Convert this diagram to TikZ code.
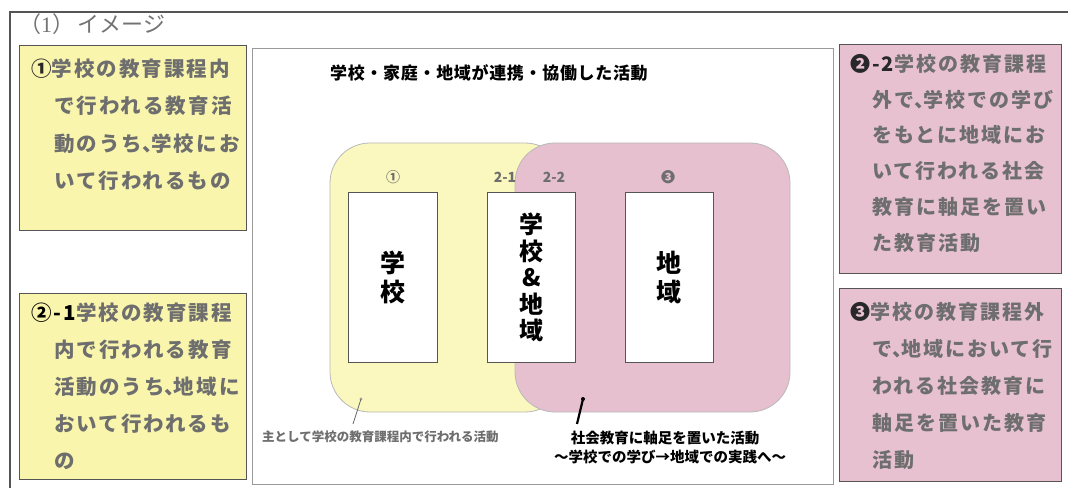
\documentclass[tikz,border=0pt]{standalone}
\usepackage{fontspec}
\setmainfont{Liberation Serif}
\newfontfamily\jp{Noto Sans CJK JP}
\newfontfamily\jpsp{Noto Sans CJK JP}[LetterSpace=10]
\newfontfamily\jpti{Noto Sans CJK JP}[LetterSpace=4]
\newcommand\jten{\makebox[9bp][l]{、}}
\definecolor{yboxc}{RGB}{249,245,172}
\definecolor{pboxc}{RGB}{231,193,208}
\definecolor{yareac}{RGB}{250,248,190}
\definecolor{pareac}{RGB}{230,192,206}
\definecolor{txtgray}{RGB}{110,110,110}
\definecolor{darktxt}{RGB}{40,40,40}
\definecolor{linegray}{RGB}{85,85,85}
\begin{document}
\begin{tikzpicture}[x=1bp,y=-1bp,
  sidebox/.style={draw=linegray, line width=1.3bp, inner sep=0pt, anchor=north west},
  sidetxt/.style={anchor=west, inner sep=0pt, text=txtgray, font=\jpsp\bfseries\fontsize{20.5bp}{20.5bp}\selectfont},
  sidetxtr/.style={sidetxt, font=\jpsp\bfseries\fontsize{20bp}{20bp}\selectfont},
  areabox/.style={draw=gray!55, line width=0.8bp, rounded corners=40bp},
  whitebox/.style={draw=linegray, line width=0.9bp, fill=white, inner sep=0pt, anchor=north west},
  bigtxt/.style={align=center, inner sep=0pt, text=black, font=\jp\bfseries\fontsize{25bp}{29bp}\selectfont},
  lbl/.style={inner sep=0pt, text=txtgray, font=\jp\bfseries\fontsize{14bp}{14bp}\selectfont},
]
\useasboundingbox (0,0) rectangle (1068,488);
\fill[white] (0,0) rectangle (1068,488);

% outer frame
\draw[linegray, line width=1.3bp] (1068,12) -- (10,12) -- (10,488);
\node[anchor=west, inner sep=0pt, text=gray!90!black, font=\fontsize{22bp}{22bp}\selectfont] (title) at (19,24) {{\jp （}1{\jp ）\,イメージ}};

% central box
\node[draw=gray!80, line width=1bp, inner sep=0pt, anchor=north west, minimum width=581bp, minimum height=436bp] (center) at (252,48) {};

% side boxes
\node[sidebox, fill=yboxc, minimum width=227bp, minimum height=185bp] (b1) at (19,45) {};
\node[sidebox, fill=yboxc, minimum width=227bp, minimum height=186bp] (b2) at (19,293) {};
\node[sidebox, fill=pboxc, minimum width=222bp, minimum height=229bp] (b3) at (839,44) {};
\node[sidebox, fill=pboxc, minimum width=222bp, minimum height=193bp] (b4) at (839,288) {};

% box 1 text
\node[sidetxt] (l11) at (31,69)  {{\color{darktxt}①}学校の教育課程内};
\node[sidetxt] (l12) at (54,106) {で行われる教育活};
\node[sidetxt] (l13) at (54,144) {動のうち\jten 学校にお};
\node[sidetxt] (l14) at (54,181) {いて行われるもの};

% box 2 text
\node[sidetxt] (l21) at (31,313) {{\color{black}②-1}学校の教育課程};
\node[sidetxt] (l22) at (54,350) {内で行われる教育};
\node[sidetxt] (l23) at (54,387) {活動のうち\jten 地域に};
\node[sidetxt] (l24) at (54,424) {おいて行われるも};
\node[sidetxt] (l25) at (54,461) {の};

% box 3 text
\node[sidetxtr] (l31) at (850,64)  {{\color{darktxt}❷-2}学校の教育課程};
\node[sidetxtr] (l32) at (872,100) {外で\jten 学校での学び};
\node[sidetxtr] (l33) at (872,135) {をもとに地域にお};
\node[sidetxtr] (l34) at (872,171) {いて行われる社会};
\node[sidetxtr] (l35) at (872,207) {教育に軸足を置い};
\node[sidetxtr] (l36) at (872,243) {た教育活動};

% box 4 text
\node[sidetxtr] (l41) at (850,312) {{\color{darktxt}❸}学校の教育課程外};
\node[sidetxtr] (l42) at (872,349) {で\jten 地域において行};
\node[sidetxtr] (l43) at (872,386) {われる社会教育に};
\node[sidetxtr] (l44) at (872,423) {軸足を置いた教育};
\node[sidetxtr] (l45) at (872,460) {活動};

% central title
\node[anchor=west, inner sep=0pt, text=black, font=\jpti\bfseries\fontsize{17bp}{17bp}\selectfont] (ctitle) at (330,73) {学校・家庭・地域が連携・協働した活動};

% areas
\draw[areabox, fill=yareac] (330,143) rectangle (565,412);
\draw[areabox, fill=pareac] (515,143) rectangle (790,412);

% white boxes
\node[whitebox, minimum width=89bp, minimum height=170bp] (r1) at (348,192) {};
\node[whitebox, minimum width=88bp, minimum height=170bp] (r2) at (487,192) {};
\node[whitebox, minimum width=88bp, minimum height=170bp] (r3) at (625,192) {};

\node[bigtxt] (s1) at (r1.center) {学\\校};
\node[bigtxt, font=\jp\bfseries\fontsize{24bp}{26.5bp}\selectfont] (s2) at (r2.center) {学\\校\\\&\\地\\域};
\node[bigtxt] (s3) at (r3.center) {地\\域};

\node[lbl] (n1) at (393,177) {①};
\node[lbl] (n21) at (505,177) {2-1};
\node[lbl] (n22) at (554,177) {2-2};
\node[lbl] (n3) at (668,177) {❸};

% annotations
\coordinate (ya) at (361,399);
\coordinate (yb) at (353,424);
\coordinate (pa) at (583,399);
\coordinate (pb) at (577,424);
\fill[gray!70] (ya) circle (1.6bp);
\draw[gray!80!black, line width=0.8bp] (ya) -- (yb);
\fill[black] (pa) circle (2bp);
\draw[black, line width=2.2bp] (pa) -- (pb);

\node[anchor=west, inner sep=0pt, text=txtgray, font=\jp\bfseries\fontsize{12.5bp}{12.5bp}\selectfont] (ynote) at (262,437) {主として学校の教育課程内で行われる活動};
\node[inner sep=0pt, text=black, font=\jp\bfseries\fontsize{14.5bp}{14.5bp}\selectfont] (pnote1) at (665,438) {社会教育に軸足を置いた活動};
\node[inner sep=0pt, text=black, font=\jp\bfseries\fontsize{14.5bp}{14.5bp}\selectfont] (pnote2) at (670,457) {～学校での学び→地域での実践へ～};
\end{tikzpicture}
\end{document}
